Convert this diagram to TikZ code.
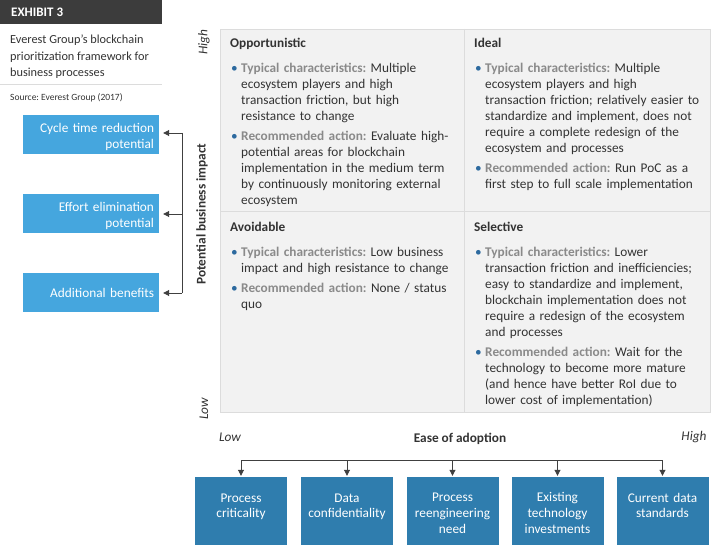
\documentclass[tikz,border=0pt]{standalone}
\usepackage{fontspec}
\setmainfont{Carlito}
\usetikzlibrary{positioning,arrows.meta}

\definecolor{hdrgray}{HTML}{3C3C3C}
\definecolor{ltblue}{HTML}{45A6DE}
\definecolor{dkblue}{HTML}{2F7DAE}
\definecolor{panelgray}{HTML}{F2F2F2}
\definecolor{rulegray}{HTML}{DCDCDC}
\definecolor{labgray}{HTML}{8A8A8A}
\definecolor{bodytxt}{HTML}{333333}
\definecolor{dotblue}{HTML}{2D6A9F}
\definecolor{arrgray}{HTML}{404040}

\newcommand{\bitem}[2]{\par{\leftskip=11pt\noindent\hspace*{-11pt}%
  \makebox[11pt][l]{\hspace{1pt}\textcolor{dotblue}{\textbullet}}%
  \textcolor{labgray}{\textbf{#1:}} #2\par}\vspace{4pt}}
\newcommand{\topstrut}{\rule{0pt}{14pt}}

\begin{document}
\frenchspacing
\begin{tikzpicture}[x=1pt,y=-1pt,
    quad/.style={anchor=north west,inner sep=0pt,text width=240pt,align=left,
      text=bodytxt,font=\fontsize{13.3}{16}\selectfont},
    sidebox/.style={fill=ltblue,text=white,minimum width=136pt,minimum height=39pt,
      text width=126pt,align=right,inner sep=0pt,font=\fontsize{13.3}{16}\selectfont},
    factor/.style={fill=dkblue,text=white,minimum width=92pt,minimum height=68pt,
      text width=92pt,align=center,inner sep=0pt,font=\fontsize{13.3}{16}\selectfont},
    arr/.style={draw=arrgray,line width=0.9pt,-{Triangle[length=6pt,width=6pt]}},
    axis/.style={text=bodytxt,font=\fontsize{13.3}{16}\selectfont\itshape}]
\useasboundingbox (0,0) rectangle (724,556);

\fill[hdrgray] (0,0) rectangle (162,24);
\node[anchor=west,inner sep=0pt,text=white,font=\fontsize{13}{14}\selectfont\bfseries] (exh) at (11,12.5) {EXHIBIT 3};
\node[anchor=north west,inner sep=0pt,align=left,text=bodytxt,font=\fontsize{12.3}{16.5}\selectfont] (ttl) at (10,35)
  {Everest Group’s blockchain\\prioritization framework for\\business processes};
\draw[rulegray,line width=1pt] (0,85) -- (162,85);
\node[anchor=west,inner sep=0pt,text=bodytxt,font=\fontsize{9.5}{11}\selectfont] (src) at (10,97.5) {Source: Everest Group (2017)};

\fill[panelgray] (220,29) rectangle (710,412);
\draw[rulegray] (220,29) rectangle (710,412);
\draw[rulegray,line width=1pt] (464,29) -- (464,412);
\draw[rulegray,line width=1pt] (220,212) -- (710,212);

\node[quad] (opp) at (230,38) {\textbf{Opportunistic}\par\vspace{9pt}
  \bitem{Typical characteristics}{Multiple\\ecosystem players and high\\transaction friction, but high\\resistance to change}
  \bitem{Recommended action}{Evaluate high-\\potential areas for blockchain\\implementation in the medium term\\by continuously monitoring external\\ecosystem}};
\node[quad] (ideal) at (474,38) {\textbf{Ideal}\par\vspace{9pt}
  \bitem{Typical characteristics}{Multiple\\ecosystem players and high\\transaction friction; relatively easier to\\standardize and implement, does not\\require a complete redesign of the\\ecosystem and processes}
  \bitem{Recommended action}{Run PoC as a\\first step to full scale implementation}};
\node[quad] (avoid) at (230,222) {\textbf{Avoidable}\par\vspace{9pt}
  \bitem{Typical characteristics}{Low business\\impact and high resistance to change}
  \bitem{Recommended action}{None / status\\quo}};
\node[quad] (sel) at (474,222) {\textbf{Selective}\par\vspace{9pt}
  \bitem{Typical characteristics}{Lower\\transaction friction and inefficiencies;\\easy to standardize and implement,\\blockchain implementation does not\\require a redesign of the ecosystem\\and processes}
  \bitem{Recommended action}{Wait for the\\technology to become more mature\\(and hence have better RoI due to\\lower cost of implementation)}};

\node[axis,rotate=90] (yhigh) at (204,42) {High};
\node[axis,rotate=90] (ylow) at (204,409) {Low};
\node[rotate=90,text=bodytxt,font=\fontsize{13.3}{16}\selectfont\bfseries] (yax) at (202,214) {Potential business impact};

\node[sidebox] (ctr) at (91,134.5) {\topstrut Cycle time reduction\\potential};
\node[sidebox] (eff) at (91,214) {\topstrut Effort elimination\\potential};
\node[sidebox] (add) at (91,293) {Additional benefits};
\draw[draw=arrgray,line width=0.9pt] ([xshift=23pt,yshift=1.5pt]ctr.east) -- ([xshift=23pt]add.east);
\foreach \b/\dy in {ctr/1.5,eff/0,add/0}
  \draw[arr] ([xshift=23pt,yshift=\dy pt]\b.east) -- ([xshift=4pt,yshift=\dy pt]\b.east);

\node[axis] (xlow) at (230,437) {Low};
\node[axis] (xhigh) at (694,437) {High};
\node[text=bodytxt,font=\fontsize{13.3}{16}\selectfont\bfseries] (xax) at (460,439) {Ease of adoption};

\node[factor] (pc) at (241,511) {\topstrut Process\\criticality\\\mbox{}};
\node[factor] (dc) at (347,511) {\topstrut Data\\confidentiality\\\mbox{}};
\node[factor] (pr) at (452.5,511) {\topstrut Process\\reengineering\\need};
\node[factor] (et) at (557.5,511) {\topstrut Existing\\technology\\investments};
\node[factor] (cd) at (662.5,511) {\topstrut Current data\\standards\\\mbox{}};
\draw[draw=arrgray,line width=0.9pt] ([yshift=16pt]pc.north) -- ([yshift=16pt]cd.north);
\foreach \b in {pc,dc,pr,et,cd}
  \draw[arr] ([yshift=16pt]\b.north) -- ([yshift=1pt]\b.north);
\end{tikzpicture}
\end{document}
